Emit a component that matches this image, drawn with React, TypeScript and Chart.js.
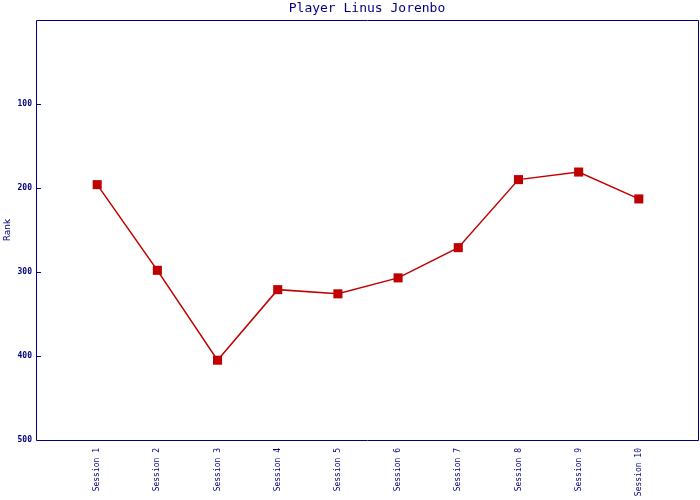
import React, { useEffect, useRef } from "react";
import { Chart, registerables } from "chart.js";

Chart.register(...registerables);

const title = "Player Linus Jorenbo";
const sessions = ["Session 1", "Session 2", "Session 3", "Session 4", "Session 5", "Session 6", "Session 7", "Session 8", "Session 9", "Session 10"];
const ranks = [196, 298, 405, 321, 326, 307, 271, 190, 181, 213];
const yTicks = [100, 200, 300, 400, 500];

const NAVY = "#000080";
const RED = "#c00000";

const noPadding = () => ({ left: 0, top: 0, right: 0, bottom: 0 });

export default function App() {
  const ref = useRef<HTMLCanvasElement | null>(null);
  useEffect(() => {
    document.body.style.margin = "0";
    const ctx = ref.current!.getContext("2d")!;
    const framePlugin = {
      id: "frame",
      afterDraw(chart: any) {
        const { ctx, chartArea } = chart;
        const l = Math.round(chartArea.left) - 0.5;
        const t = Math.round(chartArea.top) + 0.5;
        const r = Math.round(chartArea.right) - 0.5;
        const b = Math.round(chartArea.bottom) + 0.5;
        ctx.save();
        ctx.strokeStyle = NAVY;
        ctx.lineWidth = 1;
        ctx.beginPath();
        ctx.rect(l, t, r - l, b - t);
        ctx.stroke();
        const ys = chart.scales.y;
        ctx.fillStyle = NAVY;
        yTicks.forEach((v) => {
          const py = Math.round(ys.getPixelForValue(v));
          ctx.fillRect(Math.round(chartArea.left), py, 4, 1);
        });
        ctx.font = "13px 'DejaVu Sans Mono'";
        ctx.textAlign = "center";
        ctx.textBaseline = "middle";
        ctx.fillText(title, (chartArea.left + chartArea.right) / 2 - 1, 9);
        ctx.restore();
      },
    };
    const chart = new Chart(ctx, {
      type: "line",
      data: {
        datasets: [
          {
            data: sessions.map((s, i) => ({ x: i + 1, y: ranks[i] })),
            borderColor: RED,
            backgroundColor: RED,
            borderWidth: 1.5,
            pointStyle: "rect",
            pointRadius: 6.4,
            pointBorderWidth: 0,
            pointBackgroundColor: RED,
            tension: 0,
          },
        ],
      },
      options: {
        animation: false,
        responsive: false,
        layout: { autoPadding: false, padding: { top: 20, right: 1, left: 0, bottom: 0 } },
        plugins: { legend: { display: false }, title: { display: false }, tooltip: { enabled: false } },
        scales: {
          x: {
            type: "linear",
            min: 0,
            max: sessions.length + 1,
            grid: { display: false },
            border: { display: false },
            afterBuildTicks(scale: any) {
              scale.ticks = sessions.map((s, i) => ({ value: i + 1 }));
            },
            afterFit(scale: any) {
              scale.height = 60;
              scale.paddingLeft = 0;
              scale.paddingRight = 0;
              scale.getPadding = noPadding;
            },
            ticks: {
              autoSkip: false,
              maxRotation: 90,
              minRotation: 90,
              padding: 0,
              color: NAVY,
              font: { family: "'DejaVu Sans Mono'", size: 8 },
              callback: (v: any) => sessions[Number(v) - 1] ?? "",
            },
          },
          y: {
            type: "linear",
            reverse: true,
            min: 0,
            max: 500,
            border: { display: false },
            grid: { drawOnChartArea: false, drawTicks: false, tickLength: 4 },
            afterBuildTicks(scale: any) {
              scale.ticks = yTicks.map((v) => ({ value: v }));
            },
            afterFit(scale: any) {
              scale.width = 37;
              scale.paddingTop = 0;
              scale.paddingBottom = 0;
              scale.getPadding = noPadding;
            },
            title: {
              display: true,
              text: "Rank",
              color: NAVY,
              font: { family: "'DejaVu Sans'", size: 9 },
              padding: { top: 2, bottom: 0 },
            },
            ticks: {
              padding: 5,
              color: NAVY,
              font: { family: "'DejaVu Sans Mono'", size: 8, weight: "bold" },
            },
          },
        },
      },
      plugins: [framePlugin],
    } as any);
    return () => chart.destroy();
  }, []);
  return (
    <div style={{ width: 700, height: 500 }}>
      <canvas ref={ref} width={700} height={500} style={{ display: "block" }} />
    </div>
  );
}
